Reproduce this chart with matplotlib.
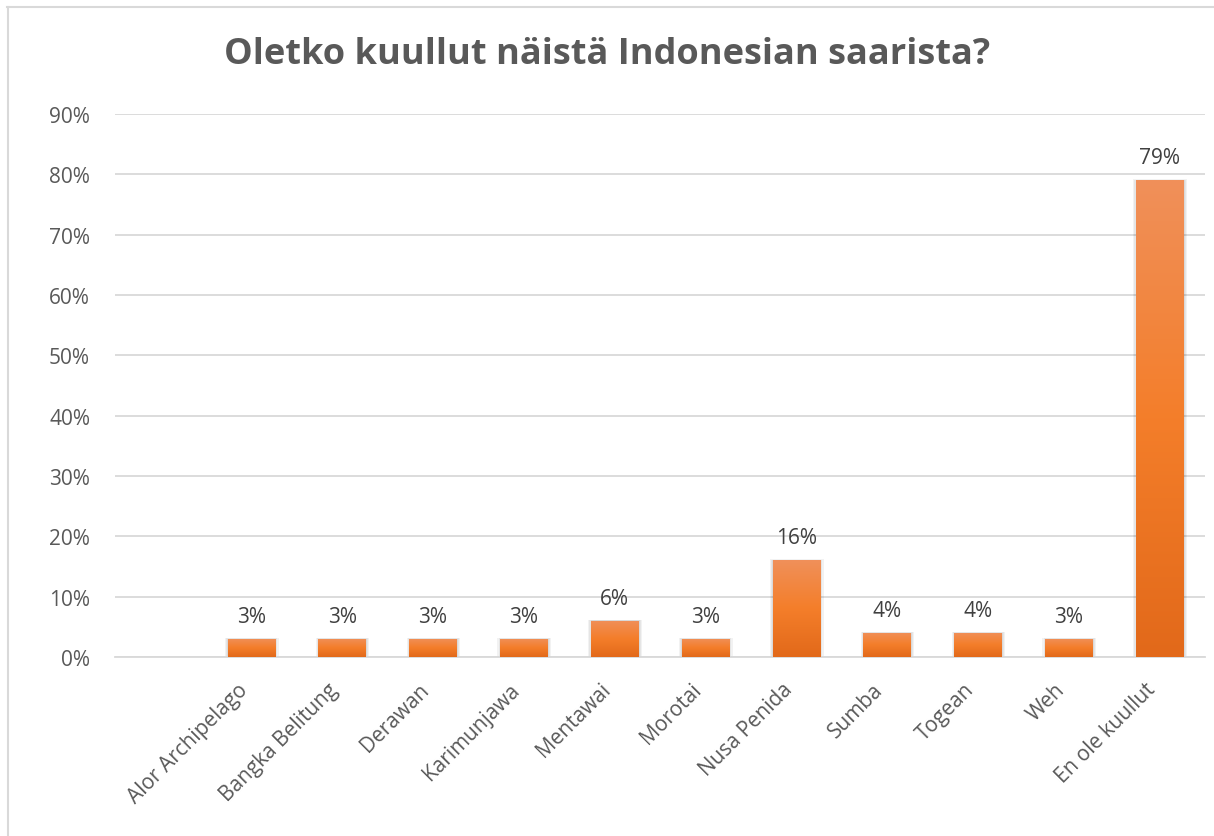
import numpy as np
import matplotlib
matplotlib.use("Agg")
import matplotlib.pyplot as plt
from matplotlib.colors import LinearSegmentedColormap
from matplotlib.lines import Line2D
from matplotlib.transforms import ScaledTranslation

title = "Oletko kuullut näistä Indonesian saarista?"
categories = ["", "Alor Archipelago", "Bangka Belitung", "Derawan", "Karimunjawa",
              "Mentawai", "Morotai", "Nusa Penida", "Sumba", "Togean", "Weh",
              "En ole kuullut"]
values = [np.nan, 3, 3, 3, 3, 6, 3, 16, 4, 4, 3, 79]  # percent
yticks = [0, 10, 20, 30, 40, 50, 60, 70, 80, 90]

fig = plt.figure(figsize=(12.14, 8.37), dpi=100)
ax = fig.add_axes([115/1214, 1-658/837, 1090/1214, (658-115)/837])

# frame lines of the chart area (top and left visible)
fig.add_artist(Line2D([7/1214, 1], [1-7.5/837, 1-7.5/837], color="#D9D9D9", lw=1.5, transform=fig.transFigure))
fig.add_artist(Line2D([7.5/1214, 7.5/1214], [0, 1-7.5/837], color="#D9D9D9", lw=1.5, transform=fig.transFigure))

cmap = LinearSegmentedColormap.from_list("g", ["#E2691A", "#F47E2A", "#F0905A"])
grad = np.linspace(0, 1, 256).reshape(-1, 1)

x = np.arange(len(categories))
w = 0.52
ax.set_xlim(-0.5, len(categories) - 0.5)
ax.set_ylim(0, 90)

for xi, v in zip(x, values):
    if np.isnan(v):
        continue
    # soft shadow
    for k, d in enumerate([0.035, 0.022, 0.01]):
        sh = plt.Rectangle((xi - w/2 - d + 0.005, 0), w + 2*d, v + d*6, facecolor="#000000",
                           alpha=0.05, edgecolor="none", zorder=2)
        ax.add_patch(sh)
    rect = plt.Rectangle((xi - w/2, 0), w, v, facecolor="none", edgecolor="none", zorder=3)
    ax.add_patch(rect)
    im = ax.imshow(grad, cmap=cmap, origin="lower", aspect="auto",
                   extent=(xi - w/2, xi + w/2, 0, v), zorder=3)
    im.set_clip_path(rect)
    ax.text(xi, v + 2.0, f"{int(v)}%", ha="center", va="bottom", fontsize=15,
            color="#404040", family="Open Sans")

ax.set_xlim(-0.5, len(categories) - 0.5)
ax.set_ylim(0, 90)
ax.set_yticks(yticks)
ax.set_yticklabels([f"{t}%" for t in yticks], fontsize=15, color="#595959", family="Open Sans")
ax.yaxis.grid(True, color="#D9D9D9", lw=1.3)
ax.set_axisbelow(True)
ax.tick_params(axis="y", length=0, pad=18)
ax.set_xticks(x)
ax.set_xticklabels(categories, rotation=45, ha="right", va="center", rotation_mode="anchor",
                   fontsize=15, color="#595959", family="Open Sans")
ax.tick_params(axis="x", length=0, pad=21)
off = ScaledTranslation(-7/100, 0, fig.dpi_scale_trans)
for lbl in ax.get_xticklabels():
    lbl.set_transform(lbl.get_transform() + off)
for s in ["top", "right", "left"]:
    ax.spines[s].set_visible(False)
ax.spines["bottom"].set_color("#D9D9D9")
ax.spines["bottom"].set_linewidth(1.3)

fig.text(0.5, 1-55/837, title, ha="center", va="center", fontsize=26, fontweight="bold",
         color="#595959", family="Open Sans")

fig.savefig("out.png", dpi=100, facecolor="white")
